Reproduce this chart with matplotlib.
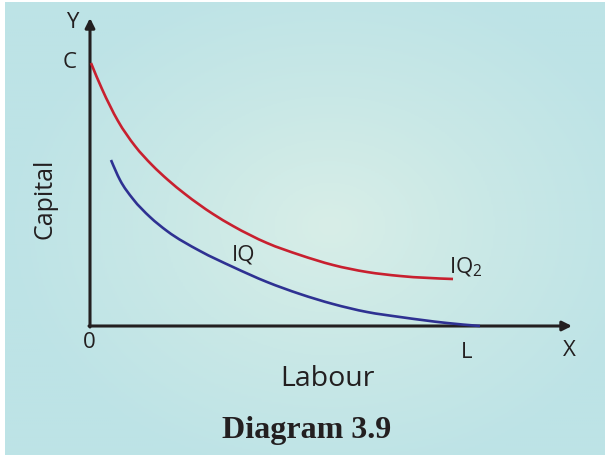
import numpy as np
import matplotlib.pyplot as plt
from matplotlib.colors import LinearSegmentedColormap
from matplotlib.path import Path
from matplotlib.patches import PathPatch

# curve points (origin at the axis corner, pixel units)
iq2_x = [1, 12, 28, 45, 62, 78, 95, 123, 143, 177, 210, 243, 277, 310, 363]
iq2_y = [263, 237, 205, 180, 161, 146, 132, 112, 100, 83, 71, 61, 54, 50, 47]
iq_x = [21, 30, 43, 60, 77, 110, 143, 177, 210, 243, 277, 310, 357, 390]
iq_y = [166, 146, 127, 109, 95, 75, 59, 44, 32, 22, 14, 9, 3, 0]

x_end, y_end = 482, 308
point_c = 264
point_l = 377


def smooth_path(xs, ys):
  # cubic hermite in x through the read points, drawn as bezier segments
  x = np.asarray(xs, float)
  y = np.asarray(ys, float)
  h = np.diff(x)
  s = np.diff(y) / h
  m = np.empty_like(x)
  m[1:-1] = (s[:-1] * h[1:] + s[1:] * h[:-1]) / (h[:-1] + h[1:])
  m[0] = 1.5 * s[0] - 0.5 * m[1]
  m[-1] = 1.5 * s[-1] - 0.5 * m[-2]
  verts = [(x[0], y[0])]
  codes = [Path.MOVETO]
  for i in range(len(x) - 1):
    d = h[i] / 3.0
    verts += [(x[i] + d, y[i] + m[i] * d), (x[i + 1] - d, y[i + 1] - m[i + 1] * d), (x[i + 1], y[i + 1])]
    codes += [Path.CURVE4] * 3
  return Path(verts, codes)


fig = plt.figure(figsize=(6.05, 4.55), dpi=100)
fig.set_facecolor('white')
ax = fig.add_axes([0, 0, 1, 1])
ax.set_xlim(-90, 515)
ax.set_ylim(-129, 326)
ax.axis('off')

# soft radial background
gx, gy = np.meshgrid(np.linspace(-85, 515, 300), np.linspace(-129, 324, 230))
r = np.sqrt(((gx - 240) / 330.0) ** 2 + ((gy - 100) / 260.0) ** 2)
cmap = LinearSegmentedColormap.from_list('bg', ['#d8eee8', '#c9e8e6', '#bde3e6'])
ax.imshow(np.clip(r, 0, 1), cmap=cmap, extent=(-85, 515, -129, 324),
          origin='lower', aspect='auto', zorder=0, vmin=0, vmax=1)

# axes with arrows
ax.annotate('', xy=(0, y_end), xytext=(0, -1),
            arrowprops=dict(arrowstyle='-|>', lw=2.2, color='#231f20', mutation_scale=14,
                            shrinkA=0, shrinkB=0), zorder=3)
ax.annotate('', xy=(x_end, 0), xytext=(-1, 0),
            arrowprops=dict(arrowstyle='-|>', lw=2.2, color='#231f20', mutation_scale=14,
                            shrinkA=0, shrinkB=0), zorder=3)

ax.add_patch(PathPatch(smooth_path(iq2_x, iq2_y), fill=False, edgecolor='#c8202f',
                       lw=1.9, zorder=4, capstyle='butt'))
ax.add_patch(PathPatch(smooth_path(iq_x, iq_y), fill=False, edgecolor='#2e3192',
                       lw=1.9, zorder=4, capstyle='butt'))

txt = dict(color='#231f20', family='Open Sans', fontsize=16)
ax.text(-18, 303, 'Y', ha='center', va='center', **txt)
ax.text(-20, point_c, 'C', ha='center', va='center', **txt)
ax.text(-1, -17, '0', ha='center', va='center', **txt)
ax.text(point_l, -27, 'L', ha='center', va='center', **txt)
ax.text(479, -24, 'X', ha='center', va='center', **txt)
ax.text(142, 65, 'IQ', ha='left', va='baseline', **txt)
ax.text(359, 53, r'IQ$_\mathregular{2}$', ha='left', va='baseline', **txt)
ax.text(237, -60, 'Labour', ha='center', va='baseline', color='#231f20',
        family='Open Sans', fontsize=20.5)
ax.text(-45, 127, 'Capital', ha='center', va='center', rotation=90,
        color='#231f20', family='Open Sans', fontsize=18)
ax.text(217, -112, 'Diagram 3.9', ha='center', va='baseline', color='#231f20',
        family='Liberation Serif', fontweight='bold', fontsize=23)

fig.savefig('out.png', dpi=100)
